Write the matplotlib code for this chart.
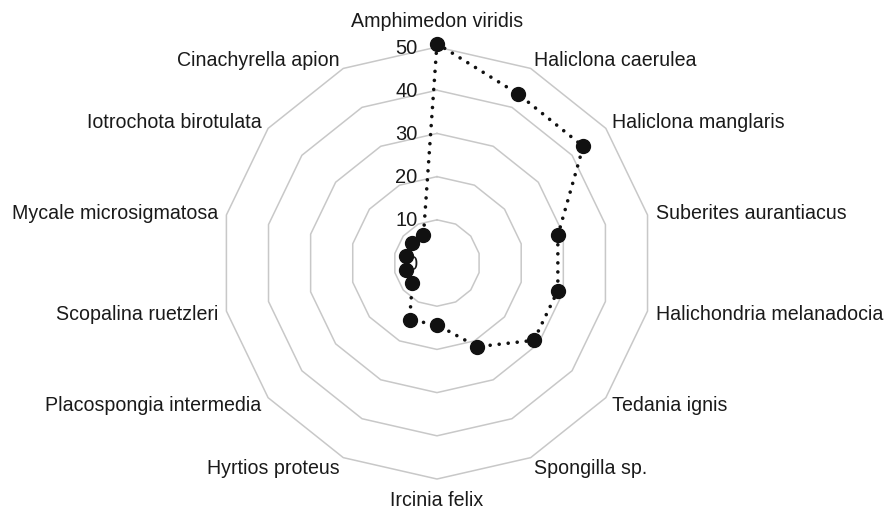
import matplotlib
matplotlib.use('Agg')
import matplotlib.pyplot as plt
import numpy as np

# Sponge species and the values
species = ['Amphimedon viridis', 'Haliclona caerulea', 'Haliclona manglaris',
           'Suberites aurantiacus', 'Halichondria melanadocia', 'Tedania ignis',
           'Spongilla sp.', 'Ircinia felix', 'Hyrtios proteus',
           'Placospongia intermedia', 'Scopalina ruetzleri', 'Mycale microsigmatosa',
           'Iotrochota birotulata', 'Cinachyrella apion']
values = [50.8, 43.4, 43.3, 28.7, 28.7, 28.7, 21.5, 14.3, 14.6, 7.3, 7.4, 7.4, 7.3, 7.2]
rings = [10, 20, 30, 40, 50]
ring_labels = ['10', '20', '30', '40', '50']

plt.rcParams['font.family'] = ['Liberation Sans', 'DejaVu Sans']

n = len(species)
theta = np.linspace(0, 2 * np.pi, n, endpoint=False)
theta_closed = np.append(theta, theta[0])

fig = plt.figure(figsize=(8.85, 5.10), dpi=100)
ax = fig.add_axes([0.2497, 0.0588, 0.4881, 0.847], projection='polar')
ax.set_theta_zero_location('N')
ax.set_theta_direction(-1)
ax.set_ylim(0, 50)
ax.grid(False)
ax.spines['polar'].set_visible(False)
ax.set_xticks([])
ax.set_yticks([])
ax.patch.set_alpha(0)

# Polygon rings (no spokes)
for r in rings:
    ax.plot(theta_closed, [r] * (n + 1), color='#c8c8c8', lw=1.1, zorder=1, clip_on=False)

# Radial value labels, left of the top axis
for r, lab in zip([0] + rings, ['0'] + ring_labels):
    ax.annotate(lab, xy=(0, r), xytext=(-14, 0), textcoords='offset points',
                ha='right', va='center', fontsize=14.5, color='#1a1a1a', zorder=2)

# Data series: dotted line with round markers
vals_closed = values + values[:1]
ax.plot(theta_closed, vals_closed, color='#111111', lw=2.6,
        linestyle=(0, (0.01, 2.5)), dash_capstyle='round', zorder=3, clip_on=False)
ax.plot(theta, values, 'o', color='#111111', markersize=10, zorder=4, clip_on=False)

# Category labels around the outer ring
for t, name in zip(theta, species):
    s, c = np.sin(t), np.cos(t)
    if abs(s) < 1e-6:
        dx, dy = 0, (19 if c > 0 else -15)
        ha = 'center'
    else:
        dx, dy = 6 * s, 7.5 * c
        ha = 'left' if s > 0 else 'right'
    ax.annotate(name, xy=(t, 50), xytext=(dx, dy), textcoords='offset points',
                ha=ha, va='center', fontsize=14.1, color='#1a1a1a')

fig.savefig('out.png', dpi=100)
plt.close(fig)
